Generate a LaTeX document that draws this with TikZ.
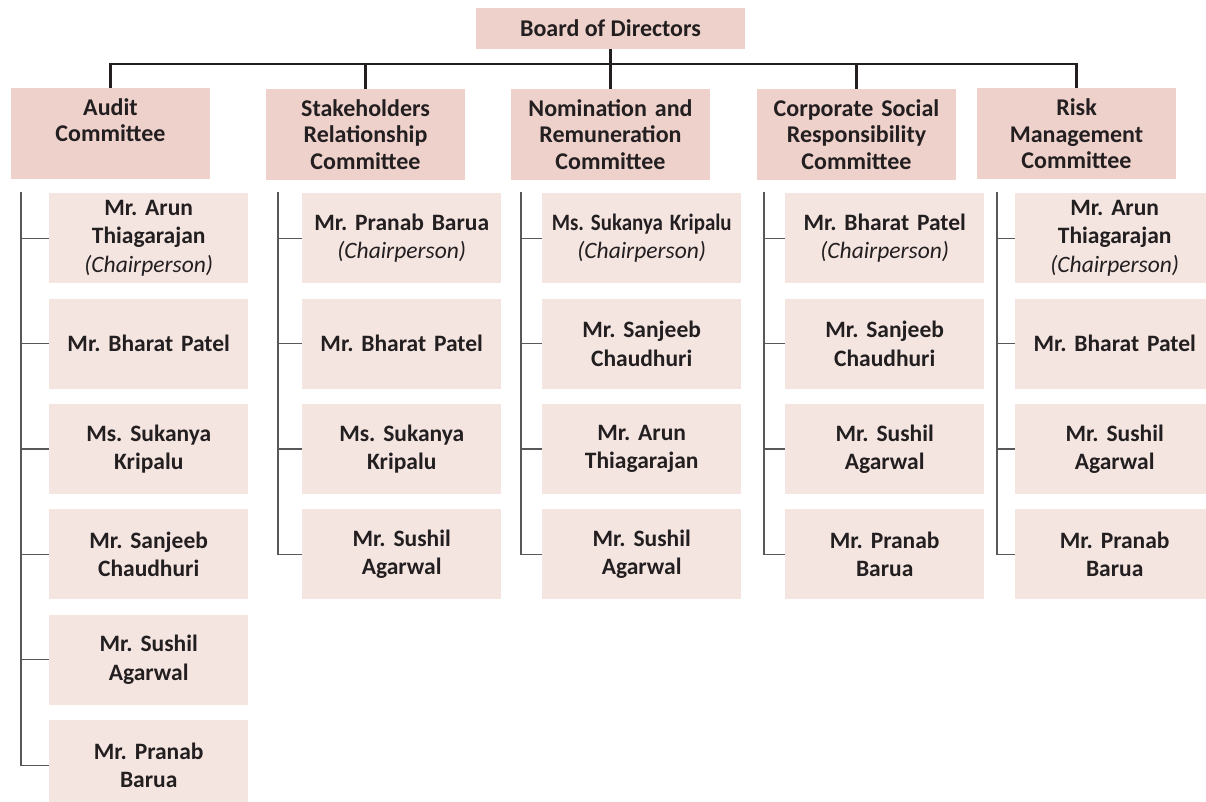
\documentclass[tikz,border=0pt]{standalone}
\usepackage{fontspec}
\setmainfont{Carlito}
\usetikzlibrary{positioning}
\definecolor{headpink}{HTML}{EED1CB}
\definecolor{memberpink}{HTML}{F4E5E1}
\definecolor{inkdark}{HTML}{231F20}
\definecolor{treegray}{HTML}{58585A}
\frenchspacing
\newcommand{\chairtag}{\\\textit{\mdseries(Chairperson)}}
\tikzset{
  boardbox/.style={
    rectangle, fill=headpink, text=inkdark,
    minimum width=269pt, minimum height=41pt,
    font=\fontsize{24}{28}\selectfont\bfseries,
    inner sep=0pt
  },
  committeebox/.style={
    rectangle, fill=headpink, text=inkdark,
    minimum width=199pt, minimum height=91pt,
    text width=196pt, align=center,
    font=\fontsize{24}{26.5}\selectfont\bfseries,
    inner sep=0pt
  },
  memberbox/.style={
    rectangle, fill=memberpink, text=inkdark,
    minimum width=199pt, minimum height=90pt,
    text width=196pt, align=center,
    font=\fontsize{23.5}{28.5}\selectfont\bfseries,
    inner sep=0pt
  },
  mainline/.style={line width=2.4pt, draw=inkdark},
  branchline/.style={line width=1.2pt, draw=treegray},
}
\begin{document}
\begin{tikzpicture}[x=1pt, y=-1pt, node distance=15pt]
\useasboundingbox (0,0) rectangle (1206,802);
% Board and committees
\node[boardbox] (board) at (610.5,28.5) {Board of Directors};
\node[committeebox] (audit) at (110.5,133.5) {Audit\\Committee\\~};
\node[committeebox] (stake) at (365.5,134.5) {Stakeholders\\Relationship\\Committee};
\node[committeebox] (nomin) at (610.5,134.5) {Nomination and\\Remuneration\\Committee};
\node[committeebox] (csr) at (856.5,134.5) {Corporate Social\\Responsibility\\Committee};
\node[committeebox] (risk) at (1076.5,134) {Risk\\Management\\Committee};
\coordinate (bus) at (610.5,64);
\draw[mainline] (board.south) -- (bus);
\draw[mainline] (audit.north) -- (audit.north |- bus) -- (risk.north |- bus) -- (risk.north);
\draw[mainline] (stake.north) -- (stake.north |- bus);
\draw[mainline] (nomin.north) -- (nomin.north |- bus);
\draw[mainline] (csr.north) -- (csr.north |- bus);

% Audit members
\node[memberbox, anchor=north west] (aud1) at (49,193) {Mr. Arun\\Thiagarajan\chairtag};
\node[memberbox, below=of aud1] (aud2) {Mr. Bharat Patel};
\node[memberbox, below=of aud2] (aud3) {Ms. Sukanya\\Kripalu};
\node[memberbox, below=of aud3] (aud4) {Mr. Sanjeeb\\Chaudhuri};
\node[memberbox, below=of aud4] (aud5) {Mr. Sushil\\Agarwal};
\node[memberbox, below=of aud5] (aud6) {Mr. Pranab\\Barua};
\coordinate (aud-top) at (21,192);
\draw[branchline] (aud-top) |- (aud6.west);
\draw[branchline] (aud-top |- aud1.west) -- (aud1.west);
\draw[branchline] (aud-top |- aud2.west) -- (aud2.west);
\draw[branchline] (aud-top |- aud3.west) -- (aud3.west);
\draw[branchline] (aud-top |- aud4.west) -- (aud4.west);
\draw[branchline] (aud-top |- aud5.west) -- (aud5.west);

% Stakeholders Relationship members
\node[memberbox, anchor=north west] (stk1) at (302,193) {Mr. Pranab Barua\chairtag};
\node[memberbox, below=of stk1] (stk2) {Mr. Bharat Patel};
\node[memberbox, below=of stk2] (stk3) {Ms. Sukanya\\Kripalu};
\node[memberbox, below=of stk3] (stk4) {Mr. Sushil\\Agarwal};
\coordinate (stk-top) at (278,192);
\draw[branchline] (stk-top) |- (stk4.west);
\draw[branchline] (stk-top |- stk1.west) -- (stk1.west);
\draw[branchline] (stk-top |- stk2.west) -- (stk2.west);
\draw[branchline] (stk-top |- stk3.west) -- (stk3.west);

% Nomination and Remuneration members
\node[memberbox, anchor=north west] (nom1) at (542,193) {\scalebox{0.89}[1]{Ms. Sukanya Kripalu}\chairtag};
\node[memberbox, below=of nom1] (nom2) {Mr. Sanjeeb\\Chaudhuri};
\node[memberbox, below=of nom2] (nom3) {Mr. Arun\\Thiagarajan};
\node[memberbox, below=of nom3] (nom4) {Mr. Sushil\\Agarwal};
\coordinate (nom-top) at (521,192);
\draw[branchline] (nom-top) |- (nom4.west);
\draw[branchline] (nom-top |- nom1.west) -- (nom1.west);
\draw[branchline] (nom-top |- nom2.west) -- (nom2.west);
\draw[branchline] (nom-top |- nom3.west) -- (nom3.west);

% CSR members
\node[memberbox, anchor=north west] (csr1) at (785,193) {Mr. Bharat Patel\chairtag};
\node[memberbox, below=of csr1] (csr2) {Mr. Sanjeeb\\Chaudhuri};
\node[memberbox, below=of csr2] (csr3) {Mr. Sushil\\Agarwal};
\node[memberbox, below=of csr3] (csr4) {Mr. Pranab\\Barua};
\coordinate (csr-top) at (764,192);
\draw[branchline] (csr-top) |- (csr4.west);
\draw[branchline] (csr-top |- csr1.west) -- (csr1.west);
\draw[branchline] (csr-top |- csr2.west) -- (csr2.west);
\draw[branchline] (csr-top |- csr3.west) -- (csr3.west);

% Risk Management members
\node[memberbox, anchor=north west] (rsk1) at (1015,193) {Mr. Arun\\Thiagarajan\chairtag};
\node[memberbox, below=of rsk1] (rsk2) {Mr. Bharat Patel};
\node[memberbox, below=of rsk2] (rsk3) {Mr. Sushil\\Agarwal};
\node[memberbox, below=of rsk3] (rsk4) {Mr. Pranab\\Barua};
\coordinate (rsk-top) at (997,192);
\draw[branchline] (rsk-top) |- (rsk4.west);
\draw[branchline] (rsk-top |- rsk1.west) -- (rsk1.west);
\draw[branchline] (rsk-top |- rsk2.west) -- (rsk2.west);
\draw[branchline] (rsk-top |- rsk3.west) -- (rsk3.west);
\end{tikzpicture}
\end{document}
